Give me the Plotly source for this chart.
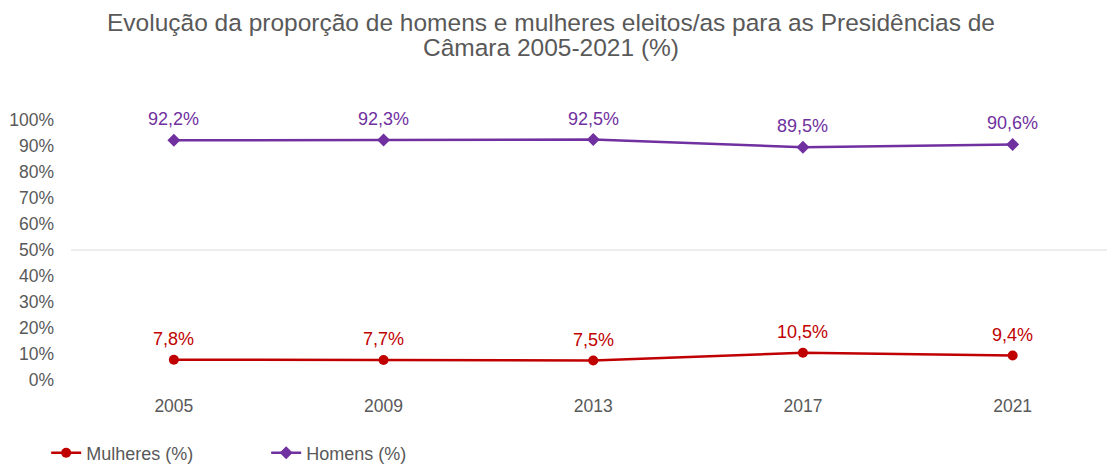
import plotly.graph_objects as go

years = ["2005", "2009", "2013", "2017", "2021"]
mulheres = [7.8, 7.7, 7.5, 10.5, 9.4]
homens = [92.2, 92.3, 92.5, 89.5, 90.6]
y_ticks = list(range(0, 101, 10))

title_lines = [
    "Evolução da proporção de homens e mulheres eleitos/as para as Presidências de",
    "Câmara 2005-2021 (%)",
]

RED = "#c00000"
PURPLE = "#7030a0"
GREY = "#595959"
FONT = "Liberation Sans, Arial, sans-serif"

def pt(v):
    return f"{v:.1f}".replace(".", ",") + "%"

xs = list(range(len(years)))

fig = go.Figure()
series = [
    ("Mulheres (%)", mulheres, RED, "circle"),
    ("Homens (%)", homens, PURPLE, "diamond"),
]
for name, vals, color, symbol in series:
    fig.add_trace(go.Scatter(
        x=xs, y=vals, name=name, mode="lines+markers",
        line=dict(color=color, width=2.5),
        marker=dict(symbol=symbol, size=10, color=color),
    ))
    # value labels above each point
    for xi, v in zip(xs, vals):
        fig.add_annotation(
            x=xi, y=v, xref="x", yref="y", text=pt(v), showarrow=False,
            xanchor="center", yanchor="middle", yshift=21,
            font=dict(size=18, color=color, family=FONT),
        )

# single reference line at the 50% mark
fig.add_shape(type="line", xref="paper", x0=0.002, x1=1, yref="y", y0=50, y1=50,
              line=dict(color="#d9d9d9", width=1), layer="below")

# two-line title, each line placed on its own
for i, line in enumerate(title_lines):
    fig.add_annotation(
        text=line, xref="paper", yref="paper",
        x=(551 - 69) / 1038, xanchor="center",
        y=(380 - (33 + 25 * i)) / 260, yanchor="bottom", yshift=-5,
        showarrow=False, font=dict(size=24.5, color=GREY, family=FONT),
    )

fig.update_layout(
    width=1107, height=466,
    margin=dict(l=69, r=0, t=120, b=86, autoexpand=False),
    plot_bgcolor="white", paper_bgcolor="white",
    font=dict(family=FONT, color=GREY, size=17.5),
    xaxis=dict(
        tickmode="array", tickvals=xs, ticktext=years,
        range=[-0.5, 4.45], showgrid=False, zeroline=False, showline=False,
        ticks="", ticklabelstandoff=13, tickfont=dict(size=17.5, color=GREY),
        fixedrange=True,
    ),
    yaxis=dict(
        range=[0, 100], tickvals=y_ticks, ticktext=[f"{v}%" for v in y_ticks],
        showgrid=False, zeroline=False, showline=False,
        ticks="", ticklabelstandoff=14, tickfont=dict(size=17.5, color=GREY),
        fixedrange=True,
    ),
    legend=dict(
        orientation="h", x=-0.022, xanchor="left",
        yref="container", y=(466 - 453) / 466, yanchor="middle",
        font=dict(size=18, color=GREY), itemwidth=30, tracegroupgap=0,
        entrywidth=175,
    ),
    showlegend=True,
)

fig.write_html("out.html")
